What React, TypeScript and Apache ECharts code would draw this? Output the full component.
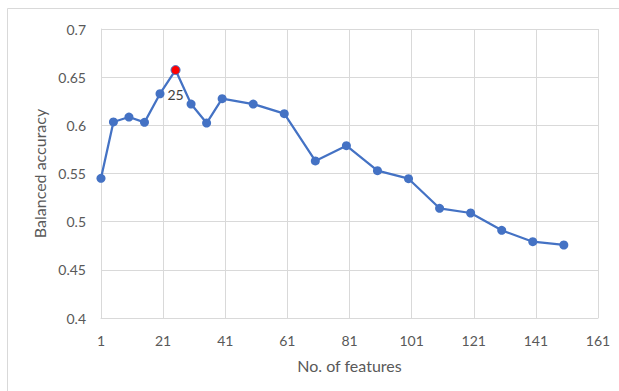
import React, { useEffect, useRef } from "react";
import * as echarts from "echarts";

const featureCounts = [1, 5, 10, 15, 20, 25, 30, 35, 40, 50, 60, 70, 80, 90, 100, 110, 120, 130, 140, 150];
const balancedAccuracy = [0.545, 0.6035, 0.6086, 0.6031, 0.6328, 0.6574, 0.6221, 0.6024, 0.6277, 0.6221, 0.6121, 0.563, 0.5789, 0.5529, 0.5446, 0.5139, 0.509, 0.491, 0.4792, 0.4758];
const highlightFeature = 25;
const xTitle = "No. of features";
const yTitle = "Balanced accuracy";

const FONT = "Lato, 'Open Sans', sans-serif";

export default function App() {
  const ref = useRef<HTMLDivElement>(null);
  useEffect(() => {
    if (!ref.current) return;
    const chart = echarts.init(ref.current, undefined, { renderer: "svg" });
    const data = featureCounts.map((x, i) => {
      const item: any = { value: [x, balancedAccuracy[i]] };
      if (x === highlightFeature) {
        item.itemStyle = { color: "#FF0000", borderColor: "#4472C4", borderWidth: 1 };
        item.label = {
          show: true,
          position: "bottom",
          distance: 12,
          formatter: String(x),
          color: "#404040",
          fontSize: 14,
          fontFamily: FONT,
        };
      }
      return item;
    });
    chart.setOption({
      animation: false,
      backgroundColor: "#ffffff",
      textStyle: { fontFamily: FONT },
      graphic: [
        {
          type: "rect",
          shape: { x: 7.5, y: 8.5, width: 700, height: 500 },
          style: { fill: "none", stroke: "#d9d9d9", lineWidth: 1 },
          silent: true,
        },
      ],
      grid: { left: 101, top: 29, right: 21, bottom: 73 },
      xAxis: {
        type: "value",
        min: 1,
        max: 161,
        interval: 20,
        name: xTitle,
        nameLocation: "middle",
        nameGap: 39,
        nameTextStyle: { color: "#595959", fontSize: 16, fontFamily: FONT },
        axisLine: { show: true, lineStyle: { color: "#d9d9d9", width: 1 } },
        axisTick: { show: false },
        axisLabel: { color: "#595959", fontSize: 14, margin: 15, fontFamily: FONT },
        splitLine: { show: true, lineStyle: { color: "#d9d9d9", width: 1 } },
      },
      yAxis: {
        type: "value",
        min: 0.4,
        max: 0.7,
        interval: 0.05,
        name: yTitle,
        nameLocation: "middle",
        nameGap: 50,
        nameTextStyle: { color: "#595959", fontSize: 16, fontFamily: FONT },
        axisLine: { show: true, lineStyle: { color: "#d9d9d9", width: 1 } },
        axisTick: { show: false },
        axisLabel: { color: "#595959", fontSize: 14, margin: 15, fontFamily: FONT },
        splitLine: { show: true, lineStyle: { color: "#d9d9d9", width: 1 } },
      },
      series: [
        {
          type: "line",
          data,
          symbol: "circle",
          symbolSize: 9,
          lineStyle: { color: "#4472C4", width: 2.25 },
          itemStyle: { color: "#4472C4" },
        },
      ],
    });
    return () => chart.dispose();
  }, []);
  return (
    <div
      ref={ref}
      style={{ position: "fixed", left: 0, top: 0, width: 619, height: 391 }}
    />
  );
}
